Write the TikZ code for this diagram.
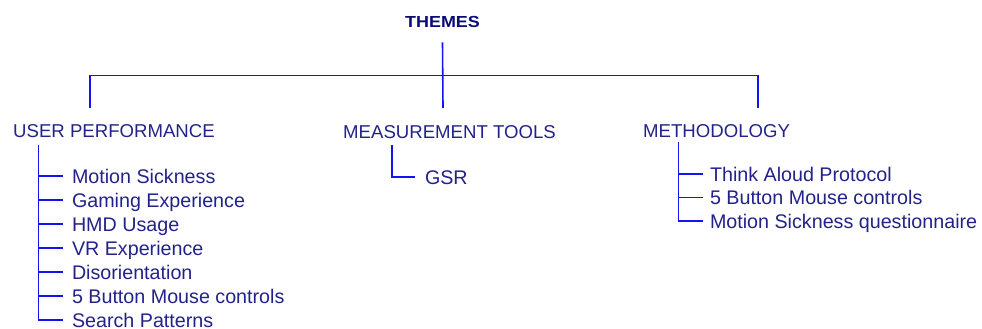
\documentclass[tikz,border=0pt]{standalone}
\usepackage{fontspec}
\setmainfont{Liberation Sans}
\definecolor{inkblue}{HTML}{22228A}
\definecolor{headblue}{HTML}{0A0A78}
\definecolor{wireblue}{HTML}{1414F0}
\tikzset{
  wire/.style={draw=wireblue, line width=1.6pt},
  headnode/.style={anchor=base, inner sep=0pt, text=headblue,
    font=\bfseries\fontsize{16}{19}\selectfont},
  catnode/.style={anchor=base west, inner sep=0pt, text=inkblue,
    font=\fontsize{18.6}{23}\selectfont},
  leafnode/.style={anchor=base west, inner sep=0pt, text height=14pt,
    text depth=0pt, text=inkblue, font=\fontsize{19.7}{23}\selectfont},
}
\begin{document}
\begin{tikzpicture}[x=1pt,y=-1pt]
\useasboundingbox (0,0) rectangle (982,329);

% root and the three theme groups
\node[headnode] (themes) at (442.5,28) {\scalebox{1.12}[1]{THEMES}};
\node[catnode] (up)   at (13,137)  {USER PERFORMANCE};
\node[catnode] (mt)   at (343,138) {MEASUREMENT TOOLS};
\node[catnode] (meth) at (643,137) {METHODOLOGY};

% junction points of the top bracket
\coordinate (hub)    at (443,75.5);
\coordinate (upIn)   at (90,108);
\coordinate (mtIn)   at (443,108);
\coordinate (methIn) at (758,108);

\draw[wire] ([yshift=-14pt]themes.south) -- (mtIn);
\draw[wire] (upIn) |- (hub) -| (methIn);

% user performance items
\coordinate (upTrunk) at (38.3,145);
\foreach \name/\txt [count=\k] in {u1/Motion Sickness, u2/Gaming Experience,
    u3/HMD Usage, u4/VR Experience, u5/Disorientation,
    u6/5 Button Mouse controls, u7/Search Patterns}
  \node[leafnode, outer xsep=9pt] (\name) at (63,183+24*\k-24) {\txt};
\draw[wire] (upTrunk) |- (u7.west);
\foreach \name in {u1,u2,u3,u4,u5,u6}
  \draw[wire] (upTrunk |- \name.west) -- (\name.west);

% measurement tools items
\coordinate (mtTrunk) at (391.7,145);
\node[leafnode, outer xsep=10pt] (g1) at (415,184) {GSR};
\draw[wire] (mtTrunk) |- (g1.west);

% methodology items
\coordinate (methTrunk) at (678.3,142);
\node[leafnode, outer xsep=7pt] (m1) at (703,181)   {Think Aloud Protocol};
\node[leafnode, outer xsep=7pt] (m2) at (703,204.5) {5 Button Mouse controls};
\node[leafnode, outer xsep=7pt] (m3) at (703,228)   {Motion Sickness questionnaire};
\draw[wire] (methTrunk) |- (m3.west);
\foreach \name in {m1,m2}
  \draw[wire] (methTrunk |- \name.west) -- (\name.west);
\end{tikzpicture}
\end{document}
